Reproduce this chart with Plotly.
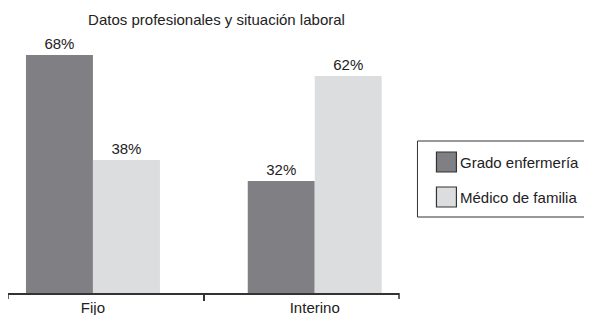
import plotly.graph_objects as go

categories = ["Fijo", "Interino"]
series_names = ["Grado enfermería", "Médico de familia"]
grado_enfermeria = [68, 32]
medico_familia = [38, 62]
series_values = [grado_enfermeria, medico_familia]
colors = ["#808084", "#dcdddf"]
title_text = "Datos profesionales y situación laboral"

# page body has an 8px margin: work in screen pixels, offset figure by (8, 8)
OX, OY = 8, 8
SW, SH = 592, 315
W, H = SW - OX, SH - OY
PL, PR, PT, PB = 8, 399.5, 40, 293  # plot area in screen px
L, R, T, B = PL - OX, SW - PR, PT - OY, SH - PB
pw, ph = PR - PL, PB - PT

def px(x):
    return (x - PL) / pw

def py(y):
    return (PB - y) / ph

FONT = "Liberation Sans, Arial, Helvetica, sans-serif"
FS = 15

fig = go.Figure()
for name, vals, col in zip(series_names, series_values, colors):
    fig.add_trace(go.Bar(
        x=categories, y=vals, name=name, marker=dict(color=col, line=dict(width=0)),
        text=[f"{v}%" for v in vals], textposition="outside",
        textfont=dict(size=FS, color="#222", family=FONT), cliponaxis=False,
        showlegend=False,
    ))

shapes = []
annotations = []
for xd in (0, 1):
    shapes.append(dict(type="line", xref="x domain", yref="paper", x0=xd, x1=xd,
                       y0=0, y1=-6 / ph, line=dict(color="#333", width=1.5)))
shapes.append(dict(type="rect", xref="paper", yref="paper", x0=px(418), x1=px(591),
                   y0=py(141), y1=py(217), line=dict(color="#333", width=1)))
for i, (name, col) in enumerate(zip(series_names, colors)):
    cy = 162 + 35 * i
    shapes.append(dict(type="rect", xref="paper", yref="paper", x0=px(437), x1=px(457),
                       y0=py(cy - 10), y1=py(cy + 10), fillcolor=col,
                       line=dict(color="#333", width=1.2)))
    annotations.append(dict(xref="paper", yref="paper", x=px(459), y=py(cy), text=name,
                            showarrow=False, xanchor="left", yanchor="middle",
                            font=dict(size=FS, color="#222", family=FONT)))

fig.update_layout(
    width=W, height=H,
    margin=dict(l=L, r=R, t=T, b=B, pad=0, autoexpand=False),
    paper_bgcolor="white", plot_bgcolor="white",
    barmode="group", bargap=0.396, bargroupgap=0,
    title=dict(text=title_text, x=(216.5 - OX) / W, xref="container", xanchor="center",
               y=1 - (20 - OY) / H, yref="container", yanchor="middle",
               font=dict(size=FS, color="#222", family=FONT)),
    xaxis=dict(type="category", range=[-0.383, 1.38], tickson="boundaries",
               ticks="outside", ticklen=6, tickwidth=1.5, tickcolor="#333",
               showline=True, linecolor="#333", linewidth=1.5, showgrid=False,
               tickfont=dict(size=FS, color="#222", family=FONT)),
    yaxis=dict(range=[0, 72.3], visible=False, showgrid=False, zeroline=False),
    shapes=shapes, annotations=annotations, showlegend=False,
)

fig.write_html("out.html")
